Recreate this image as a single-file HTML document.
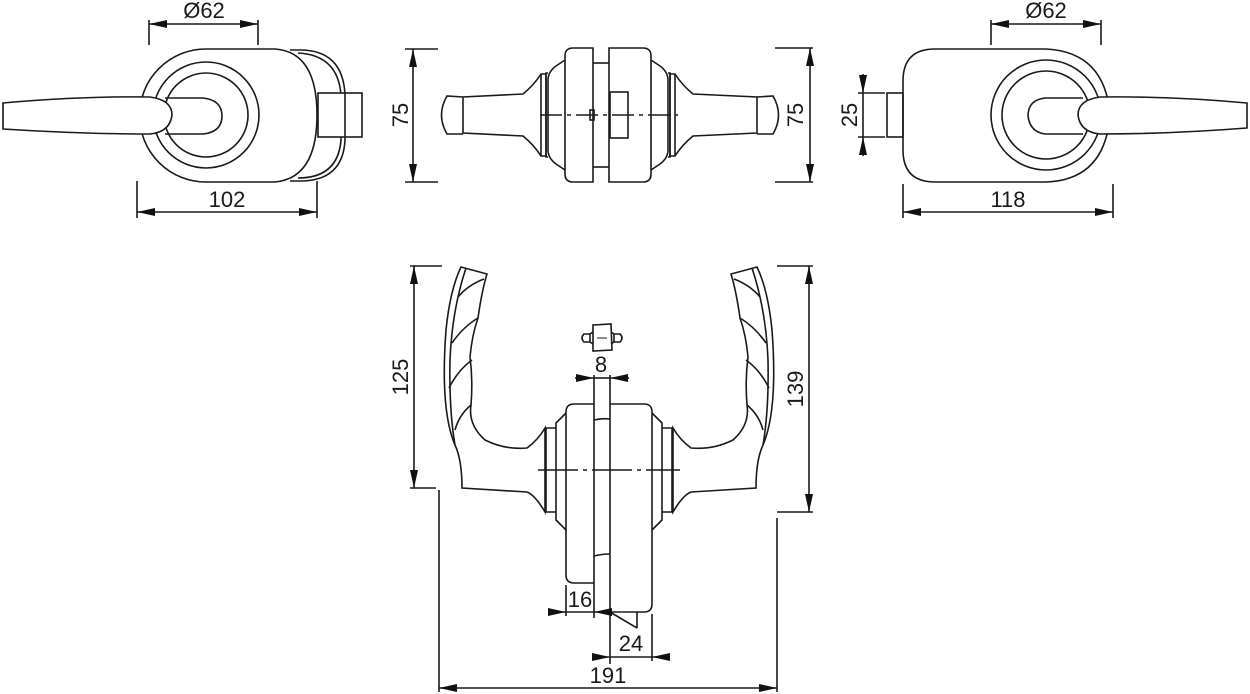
<!DOCTYPE html>
<html><head><meta charset="utf-8"><style>
html,body{margin:0;padding:0;background:#fff}
svg{display:block}
text{font-family:"Liberation Sans",sans-serif;font-size:22px;fill:#1a1a1a}
</style></head><body>
<svg width="1250" height="694" viewBox="0 0 1250 694" xmlns="http://www.w3.org/2000/svg">
<defs>
<marker id="a" viewBox="0 0 18 8" refX="18" refY="4" markerWidth="18" markerHeight="8" markerUnits="userSpaceOnUse" orient="auto"><path d="M0,0L18,4L0,8z" fill="#111"/></marker>
</defs>
<g fill="none" stroke="#1a1a1a" stroke-width="1.6">

<!-- ===== LEFT TOP VIEW ===== -->
<path d="M290,50 L300,50 Q343,50 345,95 L345,140 Q343,181 300,181 L290,181"/>
<path d="M298,53 Q338,55 341,95 L341,140 Q338,178 298,178"/>
<path d="M206,49 L275,49 Q317,52 317,115 Q317,178 275,182 L206,182 A66,66 0 0 1 206,49z" fill="#fff"/>
<circle cx="206" cy="115" r="53"/>
<circle cx="206" cy="115" r="42"/>
<path d="M165,98 L203,98 Q222,100 222,116 Q222,132 203,134 L165,134"/>
<rect x="318" y="93" width="44" height="44" fill="#fff"/>
<line x1="345" y1="93" x2="345" y2="137"/>
<path d="M3,103 Q80,96 150,97 Q172,100 172,115 Q170,132 150,134 Q80,134 3,129 Z" fill="#fff"/>
<!-- dims -->
<line x1="149" y1="20" x2="149" y2="45"/><line x1="258" y1="20" x2="258" y2="45"/>
<line x1="200" y1="24" x2="149" y2="24" marker-end="url(#a)"/><line x1="200" y1="24" x2="258" y2="24" marker-end="url(#a)"/>
<line x1="137" y1="181" x2="137" y2="218"/><line x1="317" y1="181" x2="317" y2="218"/>
<line x1="200" y1="212" x2="137" y2="212" marker-end="url(#a)"/><line x1="200" y1="212" x2="317" y2="212" marker-end="url(#a)"/>
<line x1="405" y1="49" x2="438" y2="49"/><line x1="405" y1="182" x2="438" y2="182"/>
<line x1="413" y1="115" x2="413" y2="49" marker-end="url(#a)"/><line x1="413" y1="115" x2="413" y2="182" marker-end="url(#a)"/>

<!-- ===== MIDDLE VIEW ===== -->
<path d="M593,48 L573,48 Q565,48 565,56 L565,174 Q565,182 573,182 L593,182 Z"/>
<path d="M609,48 L643,48 Q651,48 651,56 L651,174 Q651,182 643,182 L609,182 Z"/>
<line x1="593" y1="63" x2="609" y2="63"/><line x1="593" y1="167" x2="609" y2="167"/>
<path d="M565,60 L556,66 Q548,72 548,80 L548,150 Q548,158 556,164 L565,170"/>
<path d="M548,73 L546,73 L546,157 L548,157"/>
<path d="M546,74 L541,74 Q534,85 523,94 L463,97 L463,133 L523,136 Q534,145 541,156 L546,156 Z"/>
<line x1="541" y1="74" x2="541" y2="156"/>
<path d="M463,97 L447,96 Q436,115 447,134 L463,134"/>
<path d="M651,60 L660,66 Q668,72 668,80 L668,150 Q668,158 660,164 L651,170"/>
<path d="M668,73 L670,73 L670,157 L668,157"/>
<path d="M670,74 L675,74 Q682,85 693,94 L757,97 L757,133 L693,136 Q682,145 675,156 L670,156 Z"/>
<line x1="675" y1="74" x2="675" y2="156"/>
<path d="M757,97 L773,96 Q784,115 773,134 L757,134"/>
<rect x="610" y="92" width="18" height="46"/>
<rect x="590" y="110" width="4" height="10"/>
<line x1="540" y1="115" x2="678" y2="115" stroke-dasharray="22,5,4,5"/>
<line x1="775" y1="48" x2="813" y2="48"/><line x1="775" y1="182" x2="813" y2="182"/>
<line x1="810" y1="115" x2="810" y2="48" marker-end="url(#a)"/><line x1="810" y1="115" x2="810" y2="182" marker-end="url(#a)"/>

<!-- ===== RIGHT TOP VIEW ===== -->
<path d="M1046,49 L935,49 Q903,49 903,81 L903,150 Q903,182 935,182 L1046,182 Q1105,180 1110,115 Q1105,52 1046,49 Z"/>
<circle cx="1046" cy="115" r="55"/>
<circle cx="1046" cy="115" r="44"/>
<path d="M1083,98 L1045,98 Q1028,100 1028,116 Q1030,132 1045,134 L1083,134"/>
<path d="M1247,103 Q1170,96 1100,97 Q1078,100 1078,115 Q1080,132 1100,134 Q1170,134 1247,128 Z" fill="#fff"/>
<rect x="887" y="93" width="16" height="44"/>
<line x1="991" y1="20" x2="991" y2="45"/><line x1="1101" y1="20" x2="1101" y2="45"/>
<line x1="1040" y1="24" x2="991" y2="24" marker-end="url(#a)"/><line x1="1040" y1="24" x2="1101" y2="24" marker-end="url(#a)"/>
<line x1="903" y1="184" x2="903" y2="218"/><line x1="1113" y1="184" x2="1113" y2="218"/>
<line x1="1000" y1="212" x2="903" y2="212" marker-end="url(#a)"/><line x1="1000" y1="212" x2="1113" y2="212" marker-end="url(#a)"/>
<line x1="858" y1="93" x2="885" y2="93"/><line x1="858" y1="137" x2="885" y2="137"/>
<line x1="863" y1="74" x2="863" y2="93" marker-end="url(#a)"/><line x1="863" y1="156" x2="863" y2="137" marker-end="url(#a)"/>
<line x1="863" y1="93" x2="863" y2="137"/>

<!-- ===== BOTTOM VIEW ===== -->
<g id="lh">
<path d="M461,267 L487,274 Q482,290 478,318 Q472,335 470,357 Q473,380 471,405 Q468,425 485,440 Q505,450 527,448 Q538,440 545,428 L545,512 Q535,495 527,492 L462,488 Q462,460 455,445 Q440,410 446,330 Q450,290 461,267 Z"/>
<path d="M466,268 Q452,310 450,360 Q449,410 455,445"/>
<path d="M484,279 Q468,285 458,297"/>
<path d="M478,318 Q463,327 452,343"/>
<path d="M472,360 Q458,370 449,388"/>
<path d="M471,405 Q459,415 455,430"/>
<path d="M566,413 L556,423 L556,520 L566,530"/>
<path d="M556,428 L546,428 L546,512 L556,512"/>
</g>
<use href="#lh" transform="translate(1218,0) scale(-1,1)"/>
<path d="M594,404 L574,404 Q566,404 566,412 L566,575 Q566,583 574,583 L594,583"/>
<path d="M610,404 L644,404 Q652,404 652,412 L652,604 Q652,612 644,612 L610,612"/>
<line x1="594" y1="375" x2="594" y2="618"/>
<line x1="610" y1="375" x2="610" y2="664"/>
<path d="M594,420 Q602,418 610,419"/><path d="M594,556 Q602,554 610,554"/>
<line x1="538" y1="470" x2="680" y2="470" stroke-dasharray="40,5,4,5"/>
<path d="M610,612 L637,628 M637,612 L637,628"/>
<!-- small icon -->
<path d="M593,325 L611,324 L612,350 L593,351 Z"/>
<path d="M593,332 L590,334 L590,342 L593,344 M611,332 L614,334 L614,342 L611,344"/>
<path d="M590,334 L584,334 Q580,338 584,342 L590,342 M614,334 L620,334 Q624,338 620,342 L614,342"/>
<line x1="597" y1="338" x2="607" y2="338" stroke-width="1"/>
<!-- dims -->
<line x1="575" y1="378" x2="594" y2="378" marker-end="url(#a)"/><line x1="629" y1="378" x2="610" y2="378" marker-end="url(#a)"/>
<line x1="594" y1="378" x2="610" y2="378"/>
<line x1="410" y1="266" x2="442" y2="266"/><line x1="410" y1="488" x2="436" y2="488"/>
<line x1="414" y1="380" x2="414" y2="266" marker-end="url(#a)"/><line x1="414" y1="380" x2="414" y2="488" marker-end="url(#a)"/>
<line x1="777" y1="266" x2="813" y2="266"/><line x1="777" y1="512" x2="813" y2="512"/>
<line x1="809" y1="390" x2="809" y2="266" marker-end="url(#a)"/><line x1="809" y1="390" x2="809" y2="512" marker-end="url(#a)"/>
<line x1="566" y1="585" x2="566" y2="616"/>
<line x1="548" y1="612" x2="566" y2="612" marker-end="url(#a)"/><line x1="566" y1="612" x2="594" y2="612"/><line x1="612" y1="612" x2="594" y2="612" marker-end="url(#a)"/>
<line x1="652" y1="614" x2="652" y2="661"/>
<line x1="592" y1="657" x2="610" y2="657" marker-end="url(#a)"/><line x1="610" y1="657" x2="652" y2="657"/><line x1="670" y1="657" x2="652" y2="657" marker-end="url(#a)"/>
<line x1="439" y1="490" x2="439" y2="692"/><line x1="777" y1="518" x2="777" y2="692"/>
<line x1="600" y1="688" x2="439" y2="688" marker-end="url(#a)"/><line x1="600" y1="688" x2="777" y2="688" marker-end="url(#a)"/>
</g>

<g>
<text x="204" y="18" text-anchor="middle">Ø62</text>
<text x="227" y="207" text-anchor="middle">102</text>
<text transform="translate(408,115) rotate(-90)" text-anchor="middle">75</text>
<text transform="translate(803,115) rotate(-90)" text-anchor="middle">75</text>
<text x="1046" y="18" text-anchor="middle">Ø62</text>
<text x="1008" y="207" text-anchor="middle">118</text>
<text transform="translate(857,115) rotate(-90)" text-anchor="middle">25</text>
<text x="601" y="372" text-anchor="middle">8</text>
<text transform="translate(408,377) rotate(-90)" text-anchor="middle">125</text>
<text transform="translate(803,389) rotate(-90)" text-anchor="middle">139</text>
<text x="580" y="607" text-anchor="middle">16</text>
<text x="631" y="651" text-anchor="middle">24</text>
<text x="608" y="683" text-anchor="middle">191</text>
</g>
</svg>
</body></html>
